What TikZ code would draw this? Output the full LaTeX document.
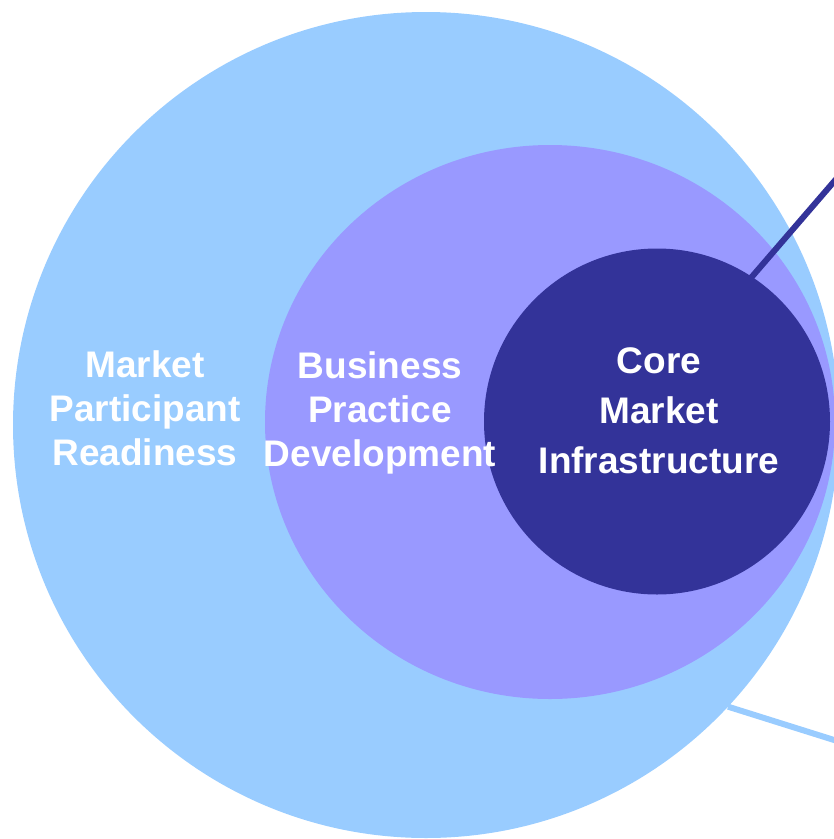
\documentclass[tikz,border=0pt]{standalone}
\usepackage{fontspec}
\setmainfont{Liberation Sans}
\usetikzlibrary{shapes.geometric}
\definecolor{lightblue}{HTML}{99CCFF}
\definecolor{midpurple}{HTML}{9999FF}
\definecolor{darkblue}{HTML}{333399}
\tikzset{
  ring/.style={inner sep=0pt, outer sep=0pt, draw=none},
  lbl/.style={text=white, font=\fontsize{37}{44}\selectfont\bfseries, align=center, inner sep=0pt},
  lead/.style={line width=6pt}
}
\begin{document}
\begin{tikzpicture}[x=1pt,y=-1pt]
\useasboundingbox (0,0) rectangle (834,839);
\node[ring, circle, fill=lightblue, minimum size=826pt] (outer) at (426,425) {};
\node[ring, ellipse, fill=midpurple, minimum width=570pt, minimum height=554pt] (mid) at (550,422) {};
\coordinate (s1) at (700,337);
\coordinate (e1) at (850,163);
\coordinate (e2) at (850,745);
\draw[lead, darkblue] (s1) -- (e1);
\draw[lead, lightblue] (outer.-43) -- (e2);
\node[ring, circle, fill=darkblue, minimum size=346pt] (core) at (657,421.5) {};
\node[lbl] (t1) at (145,408) {Market\\Participant\\Readiness};
\node[lbl] (t2) at (380,413) {Business\\Practice\\Development};
\node[lbl, font=\fontsize{37}{50}\selectfont\bfseries] (t3) at (659,411) {Core\\Market\\Infrastructure};
\end{tikzpicture}
\end{document}
